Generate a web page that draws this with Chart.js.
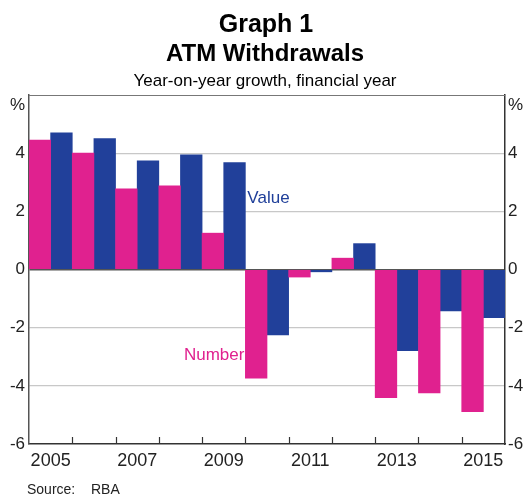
<!DOCTYPE html>
<html><head><meta charset="utf-8">
<script src="https://cdn.jsdelivr.net/npm/chart.js@4/dist/chart.umd.min.js"></script>
<style>html,body{margin:0;padding:0;background:#fff}canvas{display:block}</style>
</head><body>
<canvas id="c" width="525" height="496"></canvas>
<script>
const categories = ['2005','2006','2007','2008','2009','2010','2011','2012','2013','2014','2015'];
const numberGrowth = [4.45, 4.0, 2.77, 2.88, 1.25, -3.74, -0.26, 0.39, -4.41, -4.24, -4.89];
const valueGrowth  = [4.70, 4.5, 3.74, 3.94, 3.68, -2.25, -0.08, 0.89, -2.79, -1.42, -1.66];
const yTicks = [-6, -4, -2, 0, 2, 4, 6];

const FONT = '"Liberation Sans", Arial, Helvetica, sans-serif';
const MAGENTA = '#E0218F';
const BLUE = '#21409A';

const textPlugin = {
  id: 'texts',
  afterDraw(chart) {
    const ctx = chart.ctx;
    const x = chart.scales.x, y = chart.scales.y;
    const a = chart.chartArea;
    ctx.save();
    ctx.fillStyle = '#000';
    ctx.textAlign = 'center';
    ctx.textBaseline = 'alphabetic';
    ctx.font = 'bold 25px ' + FONT;
    ctx.fillText('Graph 1', 266, 32);
    ctx.font = 'bold 24px ' + FONT;
    ctx.fillText('ATM Withdrawals', 265, 61);
    ctx.font = '17px ' + FONT;
    ctx.fillText('Year-on-year growth, financial year', 265, 86);
    // percent signs
    ctx.font = '17px ' + FONT;
    ctx.textAlign = 'right';
    ctx.fillStyle = '#222';
    ctx.fillText('%', a.left - 4, a.top + 15);
    ctx.textAlign = 'left';
    ctx.fillText('%', a.right + 3, a.top + 15);
    // source
    ctx.font = '14px ' + FONT;
    ctx.fillText('Source:', 27, 494);
    ctx.fillText('RBA', 91, 494);
    // series labels
    const bx = (x.getPixelForValue(4) + x.getPixelForValue(5)) / 2;
    ctx.font = '17px ' + FONT;
    ctx.fillStyle = BLUE;
    ctx.textAlign = 'left';
    ctx.textBaseline = 'middle';
    ctx.fillText('Value', bx + 2, y.getPixelForValue(2.45));
    ctx.fillStyle = MAGENTA;
    ctx.textAlign = 'right';
    ctx.fillText('Number', bx - 1, y.getPixelForValue(-2.95));
    // x tick marks (inside, at category boundaries)
    ctx.strokeStyle = '#333';
    ctx.lineWidth = 1.2;
    for (let i = 1; i < categories.length; i++) {
      const px = Math.round((x.getPixelForValue(i - 1) + x.getPixelForValue(i)) / 2) + 0.5;
      ctx.beginPath();
      ctx.moveTo(px, a.bottom);
      ctx.lineTo(px, a.bottom - 7);
      ctx.stroke();
    }
    // top border
    ctx.strokeStyle = '#777';
    ctx.lineWidth = 1.2;
    ctx.beginPath();
    ctx.moveTo(a.left, a.top + 0.5);
    ctx.lineTo(a.right, a.top + 0.5);
    ctx.stroke();
    ctx.restore();
  }
};

new Chart(document.getElementById('c'), {
  type: 'bar',
  data: {
    labels: categories,
    datasets: [
      { label: 'Number', data: numberGrowth, backgroundColor: MAGENTA, categoryPercentage: 1, barPercentage: 1, borderWidth: 0 },
      { label: 'Value', data: valueGrowth, backgroundColor: BLUE, categoryPercentage: 1, barPercentage: 1, borderWidth: 0 }
    ]
  },
  options: {
    responsive: false,
    animation: false,
    layout: { padding: { top: 95, left: 0, right: 0, bottom: 0 } },
    plugins: { legend: { display: false }, title: { display: false }, tooltip: { enabled: false } },
    scales: {
      x: {
        grid: { display: false, drawTicks: false },
        border: { display: true, color: '#333', width: 1.5 },
        ticks: {
          autoSkip: false, maxRotation: 0, minRotation: 0, padding: 6,
          color: '#222', font: { family: FONT, size: 18 },
          callback: (v, i) => (i % 2 === 0 ? categories[i] : '')
        },
        afterFit: s => { s.height = 52; }
      },
      y: {
        position: 'left', min: -6, max: 6,
        afterBuildTicks: s => { s.ticks = yTicks.map(v => ({ value: v })); },
        grid: {
          drawTicks: false,
          color: ctx => (ctx.tick.value === 0 ? '#555' : (Math.abs(ctx.tick.value) === 6 ? 'rgba(0,0,0,0)' : '#C8C8C8')),
          lineWidth: ctx => (ctx.tick.value === 0 ? 1.5 : 1.2)
        },
        border: { display: true, color: '#555', width: 1.5 },
        ticks: { padding: 4, color: '#222', font: { family: FONT, size: 17 }, callback: v => (v === 6 ? '' : String(v)) },
        afterFit: s => { s.width = 29; }
      },
      y2: {
        position: 'right', min: -6, max: 6,
        afterBuildTicks: s => { s.ticks = yTicks.map(v => ({ value: v })); },
        grid: { drawOnChartArea: false, drawTicks: false },
        border: { display: true, color: '#333', width: 1.5 },
        ticks: { padding: 3, color: '#222', font: { family: FONT, size: 17 }, callback: v => (v === 6 ? '' : String(v)) },
        afterFit: s => { s.width = 20; }
      }
    }
  },
  plugins: [textPlugin]
});
</script>
</body></html>
